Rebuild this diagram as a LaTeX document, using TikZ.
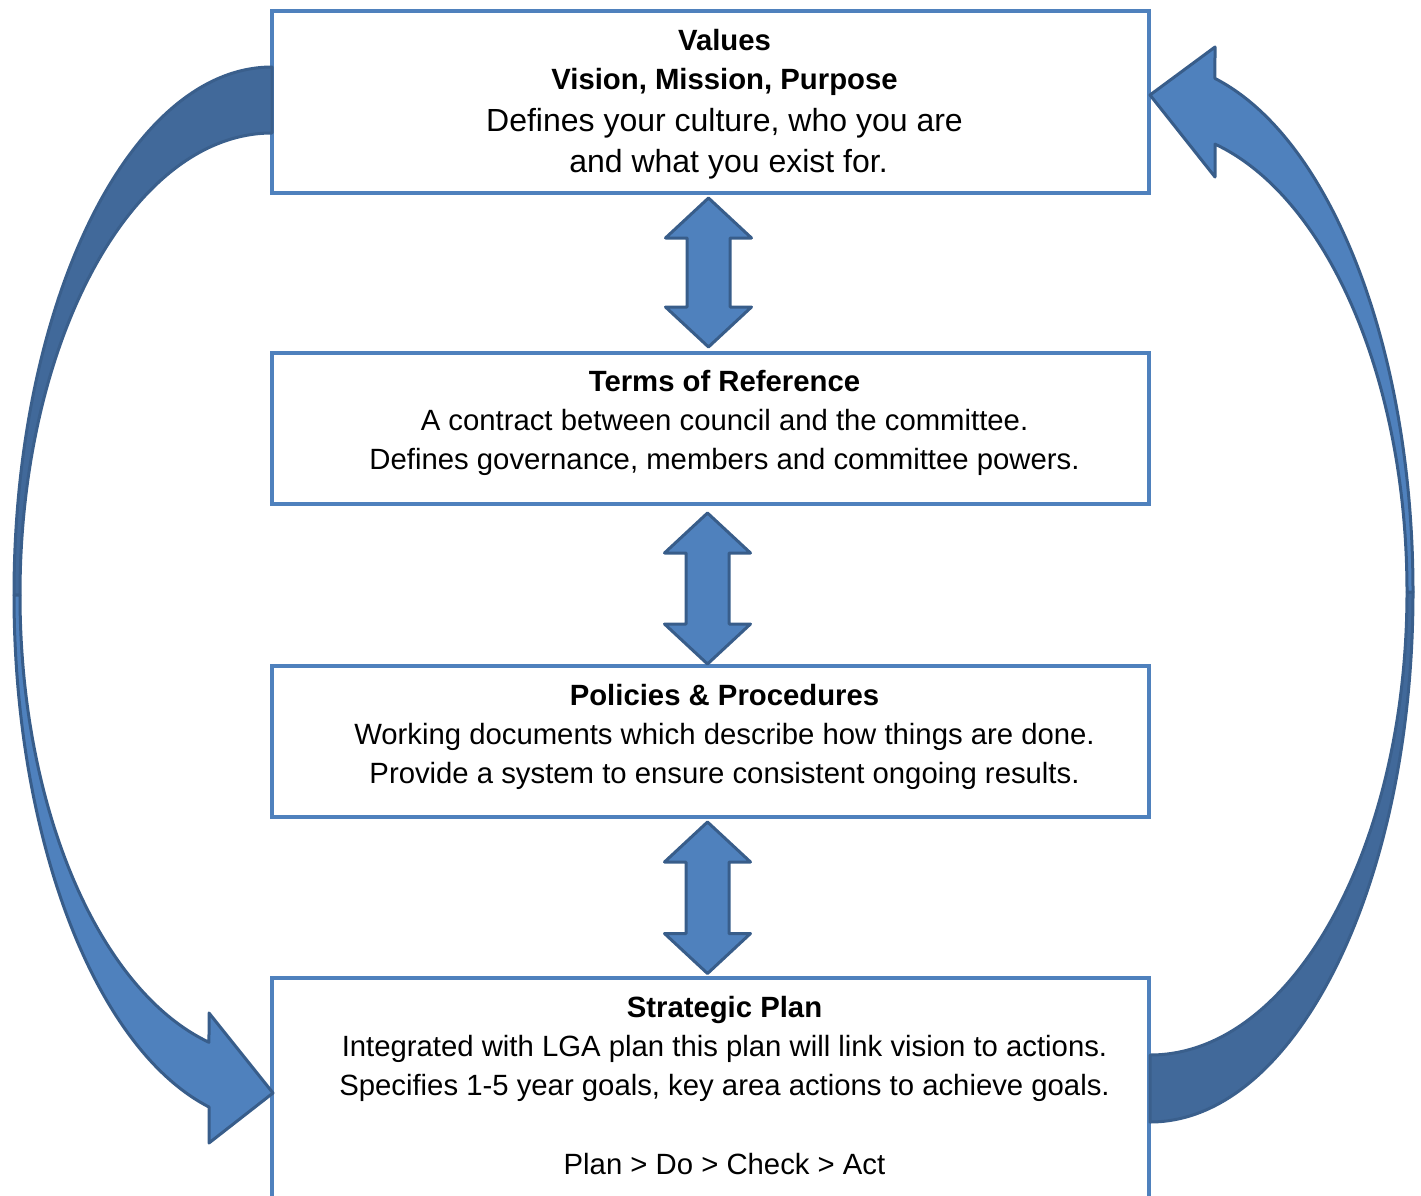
\documentclass[tikz,border=0pt]{standalone}
\usepackage{fontspec}
\setmainfont{Liberation Sans}
\usetikzlibrary{calc}
\definecolor{boxblue}{HTML}{4F81BD}
\definecolor{arrowline}{HTML}{385D8A}
\definecolor{backfill}{HTML}{41699A}
\definecolor{backline}{HTML}{3A5F8C}
\tikzset{
  box/.style={draw=boxblue, line width=4pt, fill=white, minimum width=877pt, inner sep=0pt},
  boxtext/.style={align=center, anchor=north, inner sep=0pt, font=\fontsize{29.3}{39.2}\selectfont},
  blockarrow/.style={fill=boxblue, draw=arrowline, line width=3pt, line join=round},
  frontribbon/.style={fill=boxblue, draw=arrowline, line width=3pt, line join=round},
  backribbon/.style={fill=backfill, draw=backline, line width=3pt, line join=round},
}
\newcommand\bigline{\fontsize{32}{41}\selectfont}
\newcommand\dblarr[2]{%
  \draw[blockarrow] (#1) -- ($(#1)+(43,40)$) -- ($(#1)+(21.5,40)$) -- ($(#2)+(21.5,-40)$)
    -- ($(#2)+(43,-40)$) -- (#2) -- ($(#2)+(-43,-40)$) -- ($(#2)+(-21.5,-40)$)
    -- ($(#1)+(-21.5,40)$) -- ($(#1)+(-43,40)$) -- cycle;}
\begin{document}
\begin{tikzpicture}[x=1pt,y=-1pt]
\useasboundingbox (0,0) rectangle (1421,1196);
% boxes
\node[box, minimum height=181.5pt] (v) at (710.5,101.75) {};
\node[box, minimum height=151.5pt] (tor) at (710.5,428.25) {};
\node[box, minimum height=151pt] (pol) at (710.5,741.5) {};
\node[box, minimum height=280pt] (sp) at (710.5,1117.5) {};
% texts
\node[boxtext] (vt) at (724.5,22.56) {\strut\textbf{Values}\\\textbf{Vision, Mission, Purpose}\\[3.1pt]{\bigline Defines your culture, who you are}\\[1.8pt]{\bigline\hspace*{8pt}and what you exist for.}};
\node[boxtext] (tort) at (724.5,363.56) {\strut\textbf{Terms of Reference}\\A contract between council and the committee.\\Defines governance, members and committee powers.};
\node[boxtext] (polt) at (724.5,677.56) {\strut\textbf{Policies \& Procedures}\\Working documents which describe how things are done.\\Provide a system to ensure consistent ongoing results.};
\node[boxtext] (spt) at (724.5,989.56) {\strut\textbf{Strategic Plan}\\Integrated with LGA plan this plan will link vision to actions.\\Specifies 1-5 year goals, key area actions to achieve goals.\\[39.2pt]Plan > Do > Check > Act};
% double arrows
\coordinate (a1t) at ($(v.south)+(-2,3.5)$);
\coordinate (a1b) at ($(tor.north)+(-2,-3.5)$);
\coordinate (a2t) at ($(tor.south)+(-3,7)$);
\coordinate (a2b) at ($(pol.north)+(-3,0)$);
\coordinate (a3t) at ($(pol.south)+(-3,3)$);
\coordinate (a3b) at ($(sp.north)+(-3,-2)$);
\dblarr{a1t}{a1b}
\dblarr{a2t}{a2b}
\dblarr{a3t}{a3b}
% left curved arrow (Values -> Strategic Plan)
\coordinate (LC) at (272,595);
\coordinate (ltip) at (273,1093);
\draw[backribbon] ($(LC)+(270:258 and 528)$) arc[start angle=270,end angle=180,x radius=258,y radius=528]
  -- ($(LC)+(180:252 and 462)$) arc[start angle=180,end angle=270,x radius=252,y radius=462] -- cycle;
\draw[frontribbon] ($(LC)+(180:258 and 528)$) arc[start angle=180,end angle=104.1,x radius=258,y radius=528]
  -- (209,1143) -- (ltip) -- (209,1013)
  -- ($(LC)+(104.48:252 and 462)$) arc[start angle=104.48,end angle=180,x radius=252,y radius=462] -- cycle;
% right curved arrow (Strategic Plan -> Values)
\coordinate (RC) at (1150,592);
\coordinate (rtip) at (1150,95);
\draw[backribbon] ($(RC)+(90:263 and 530)$) arc[start angle=90,end angle=0,x radius=263,y radius=530]
  -- ($(RC)+(0:257 and 463)$) arc[start angle=0,end angle=90,x radius=257,y radius=463] -- cycle;
\draw[frontribbon] ($(RC)+(0:263 and 530)$) arc[start angle=0,end angle=-75.7,x radius=263,y radius=530]
  -- (1215,47) -- (rtip) -- (1215,177)
  -- ($(RC)+(-75.35:257 and 463)$) arc[start angle=-75.35,end angle=0,x radius=257,y radius=463] -- cycle;
\end{tikzpicture}
\end{document}
